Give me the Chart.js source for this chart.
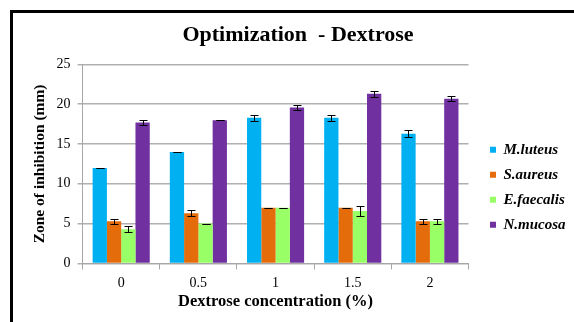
<!DOCTYPE html>
<html>
<head>
<meta charset="utf-8">
<script src="https://cdn.jsdelivr.net/npm/chart.js@4"></script>
<style>
  html, body { margin: 0; padding: 0; background: #fff; overflow: hidden; }
  #wrap { position: relative; width: 574px; height: 322px; overflow: hidden; }
  #frame { position: absolute; left: 10px; top: 10px; width: 620px; height: 400px; border: 3px solid #000; box-sizing: border-box; }
  canvas { position: absolute; left: 0; top: 0; }
</style>
</head>
<body>
<div id="wrap">
  <div id="frame"></div>
  <canvas id="c" width="571" height="322"></canvas>
</div>
<script>
const categories = ['0', '0.5', '1', '1.5', '2'];
const seriesNames = ['M.luteus', 'S.aureus', 'E.faecalis', 'N.mucosa'];
const mLuteus   = [12.0, 14.0, 18.3, 18.3, 16.3];
const sAureus   = [5.3, 6.3, 7.0, 7.0, 5.3];
const eFaecalis = [4.3, 5.0, 7.0, 6.6, 5.3];
const nMucosa   = [17.7, 18.0, 19.6, 21.3, 20.7];
const mLuteusErr   = [0.0, 0.0, 0.4, 0.4, 0.4];
const sAureusErr   = [0.3, 0.4, 0.0, 0.0, 0.3];
const eFaecalisErr = [0.4, 0.0, 0.0, 0.6, 0.3];
const nMucosaErr   = [0.3, 0.0, 0.35, 0.35, 0.35];
const yTicks = [0, 5, 10, 15, 20, 25];
const colors = ['#00B0F0', '#E46C0A', '#99FF66', '#7030A0'];

const values = [mLuteus, sAureus, eFaecalis, nMucosa];
const errors = [mLuteusErr, sAureusErr, eFaecalisErr, nMucosaErr];

const serif = "'Liberation Serif', 'Times New Roman', serif";

const errorBars = {
  id: 'errorBars',
  afterDatasetsDraw(chart) {
    const ctx = chart.ctx;
    const y = chart.scales.y;
    ctx.save();
    ctx.strokeStyle = '#000';
    ctx.lineWidth = 1;
    chart.data.datasets.forEach((ds, i) => {
      const meta = chart.getDatasetMeta(i);
      meta.data.forEach((el, j) => {
        const v = ds.data[j], e = ds.errors[j];
        const x = Math.round(el.x) + 0.5;
        const yt = Math.round(y.getPixelForValue(v + e)) + 0.5;
        const yb = Math.round(y.getPixelForValue(v - e)) + 0.5;
        ctx.beginPath();
        ctx.moveTo(x, yt); ctx.lineTo(x, yb);
        ctx.moveTo(x - 4, yt); ctx.lineTo(x + 4, yt);
        ctx.moveTo(x - 4, yb); ctx.lineTo(x + 4, yb);
        ctx.stroke();
      });
    });
    ctx.restore();
  }
};

new Chart(document.getElementById('c'), {
  type: 'bar',
  data: {
    labels: categories,
    datasets: seriesNames.map((n, i) => ({
      label: n,
      data: values[i],
      errors: errors[i],
      backgroundColor: colors[i],
      borderWidth: 0,
      barPercentage: 1.0,
      categoryPercentage: 0.74
    }))
  },
  options: {
    responsive: false,
    animation: false,
    layout: { padding: { left: 25, right: 0, top: 17, bottom: 15.5 } },
    plugins: {
      title: {
        display: true,
        text: 'Optimization  - Dextrose',
        color: '#000',
        font: { family: serif, size: 22, weight: 'bold' },
        padding: { top: 5, bottom: 16 }
      },
      legend: {
        position: 'right',
        title: { display: true, text: ' ', font: { size: 10 }, padding: { top: 39, bottom: 0 } },
        labels: {
          color: '#000',
          boxWidth: 6,
          boxHeight: 6,
          padding: 10,
          font: { family: serif, size: 15, weight: 'bold', style: 'italic' }
        }
      },
      tooltip: { enabled: false }
    },
    scales: {
      x: {
        grid: { drawOnChartArea: false, drawTicks: true, tickLength: 6, color: '#a6a6a6', lineWidth: 1 },
        border: { color: '#a6a6a6', width: 1 },
        ticks: { color: '#000', font: { family: serif, size: 14, lineHeight: 1 }, padding: 7 },
        title: {
          display: true,
          text: 'Dextrose concentration (%)',
          color: '#000',
          font: { family: serif, size: 16.5, weight: 'bold', lineHeight: 0.55 },
          padding: { top: 0, bottom: 0 }
        }
      },
      y: {
        min: 0, max: 25,
        afterBuildTicks(s) { s.ticks = yTicks.map(v => ({ value: v })); },
        grid: { color: '#b0b0b0', lineWidth: 1.5, drawTicks: true, tickLength: 5 },
        border: { color: '#a6a6a6', width: 1 },
        ticks: { color: '#000', font: { family: serif, size: 14 }, padding: 7 },
        title: {
          display: true,
          text: 'Zone of inhibition (mm)',
          color: '#000',
          font: { family: serif, size: 15.5, weight: 'bold' },
          padding: { top: 6, bottom: 0 }
        }
      },
      y2: {
        position: 'right',
        display: true,
        grid: { display: false, drawOnChartArea: false },
        border: { display: false },
        ticks: { display: false },
        afterFit(s) { s.width = 11.5; }
      }
    }
  },
  plugins: [errorBars]
});
</script>
</body>
</html>
